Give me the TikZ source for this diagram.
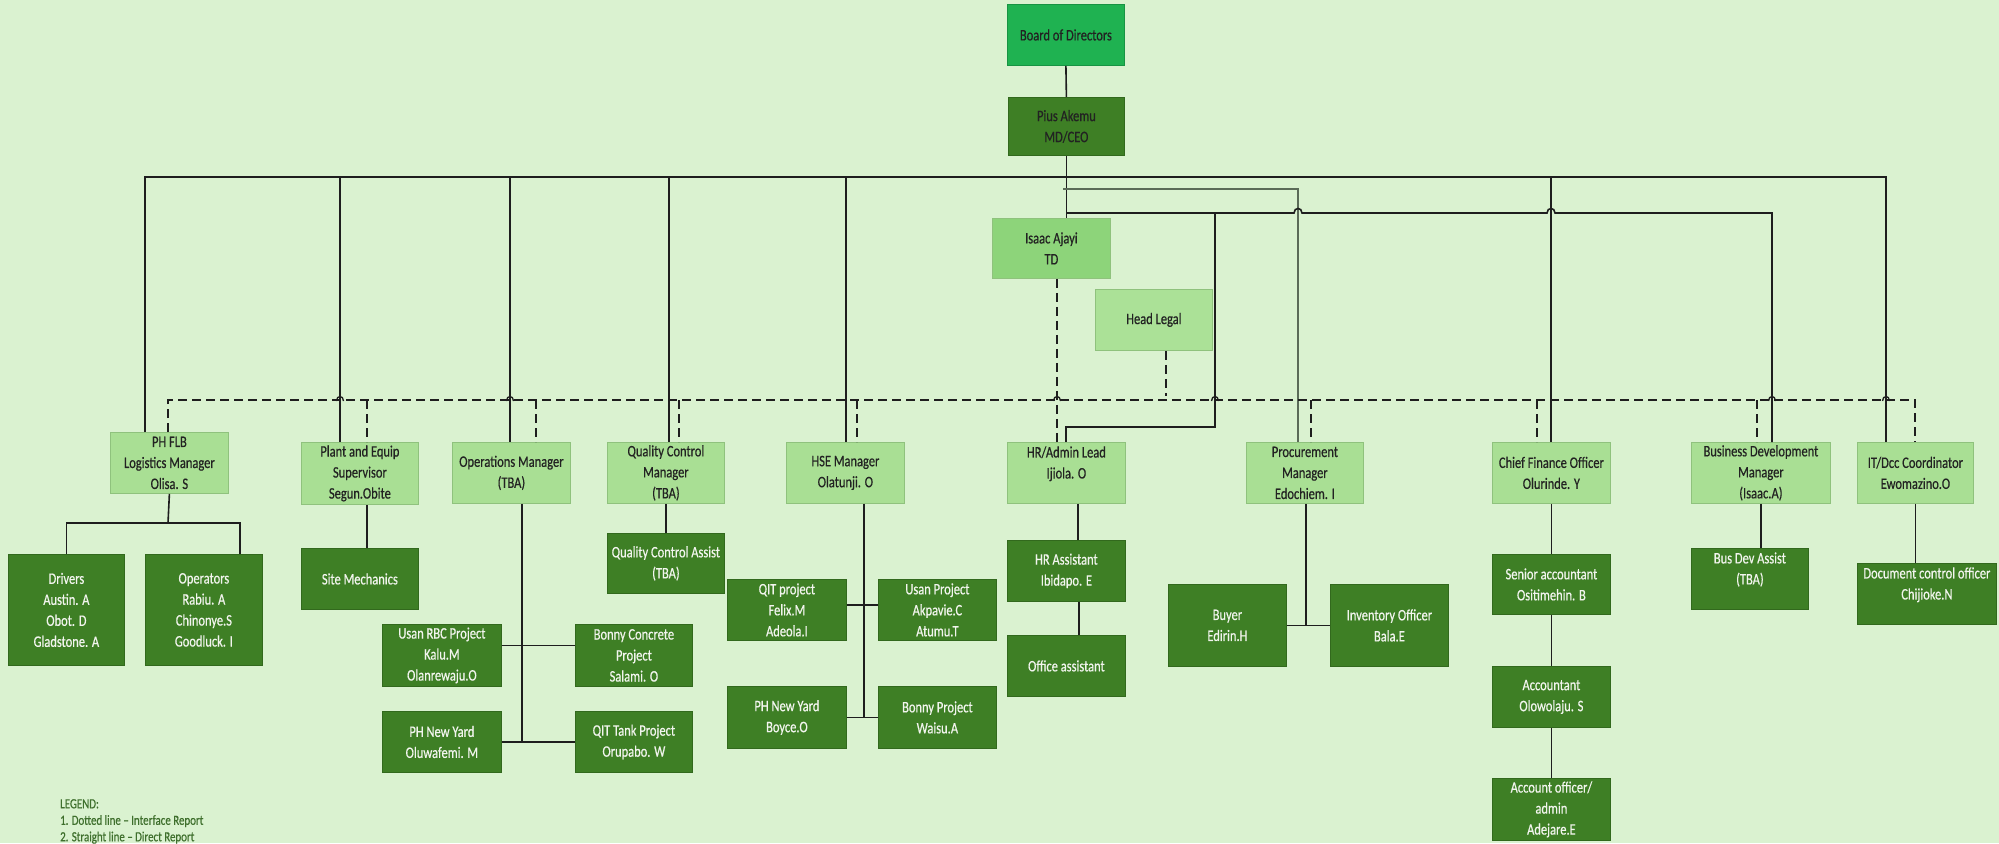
\documentclass[tikz,border=0pt]{standalone}
\usepackage{fontspec}
\setmainfont{Carlito}[FakeStretch=0.78,FakeBold=0.5]
\definecolor{bg}{HTML}{DAF2D0}
\definecolor{lgreen}{HTML}{A9DF94}
\definecolor{lborder}{HTML}{8FC27D}
\definecolor{isaacg}{HTML}{8DD47A}
\definecolor{legalg}{HTML}{ABE197}
\definecolor{boardg}{HTML}{1FB251}
\definecolor{boardb}{HTML}{179443}
\definecolor{dgreen}{HTML}{3E7F25}
\definecolor{dborder}{HTML}{32691D}
\definecolor{linecol}{HTML}{1E1E1E}
\definecolor{grayline}{HTML}{5B6B58}
\definecolor{ltext}{HTML}{222222}
\definecolor{dtext}{HTML}{F2F5EE}
\definecolor{legtext}{HTML}{3E6F2C}
\begin{document}
\begin{tikzpicture}[x=1pt,y=-1pt,
  box/.style={rectangle, draw, line width=0.8pt, anchor=north west, inner sep=0pt,
    align=center, font=\fontsize{16}{21}\selectfont},
  lbox/.style={box, fill=lgreen, draw=lborder, text=ltext},
  dbox/.style={box, fill=dgreen, draw=dborder, text=dtext},
  conn/.style={line width=1.6pt, draw=linecol},
  gconn/.style={line width=1.6pt, draw=grayline},
  dconn/.style={line width=2pt, draw=linecol, dash pattern=on 9pt off 5pt},
  hop/.style={line width=1.3pt, draw=linecol},
  legendtext/.style={anchor=north west, inner sep=0pt, align=left, text=legtext,
    font=\fontsize{14}{16.5}\selectfont}]
\useasboundingbox (0,0) rectangle (1999,843);
\fill[bg] (0,0) rectangle (1999,843);

% ---------- top ----------
\node[box, fill=boardg, draw=boardb, text=ltext, minimum width=117pt, minimum height=61pt] (board) at (1007,4) {Board of Directors};
\node[box, fill=dgreen, draw=dborder, text=ltext, minimum width=116pt, minimum height=58pt] (pius) at (1008,97) {Pius Akemu\\MD/CEO};
\node[box, fill=isaacg, draw=lborder, text=ltext, minimum width=118pt, minimum height=60pt] (isaac) at (992,218) {Isaac Ajayi\\TD};
\node[box, fill=legalg, draw=lborder, text=ltext, minimum width=117pt, minimum height=61pt] (legal) at (1095,289) {Head Legal};

% ---------- managers ----------
\node[lbox, minimum width=118pt, minimum height=61pt] (pfl) at (110,432) {PH FLB\\Logistics Manager\\Olisa. S};
\node[lbox, minimum width=117pt, minimum height=62pt] (plant) at (301,442) {Plant and Equip\\Supervisor\\Segun.Obite};
\node[lbox, minimum width=118pt, minimum height=61pt] (ops) at (452,442) {Operations Manager\\(TBA)};
\node[lbox, minimum width=117pt, minimum height=61pt] (qc) at (607,442) {Quality Control\\Manager\\(TBA)};
\node[lbox, minimum width=118pt, minimum height=61pt] (hse) at (786,442) {HSE Manager\\Olatunji. O};
\node[lbox, minimum width=118pt, minimum height=61pt] (hr) at (1007,442) {HR/Admin Lead\\Ijiola. O\\~};
\node[lbox, minimum width=117pt, minimum height=61pt] (proc) at (1246,442) {Procurement\\Manager\\Edochiem. I};
\node[lbox, minimum width=118pt, minimum height=61pt] (cfo) at (1492,442) {Chief Finance Officer\\Olurinde. Y};
\node[lbox, minimum width=139pt, minimum height=61pt] (bdm) at (1691,442) {Business Development\\Manager\\(Isaac.A)};
\node[lbox, minimum width=116pt, minimum height=61pt] (it) at (1857,442) {IT/Dcc Coordinator\\Ewomazino.O};

% ---------- staff ----------
\node[dbox, minimum width=116pt, minimum height=111pt] (drivers) at (8,554) {Drivers\\Austin. A\\Obot. D\\Gladstone. A};
\node[dbox, minimum width=117pt, minimum height=111pt] (operators) at (145,554) {Operators\\Rabiu. A\\Chinonye.S\\Goodluck. I};
\node[dbox, minimum width=117pt, minimum height=61pt] (site) at (301,548) {Site Mechanics};
\node[dbox, minimum width=117pt, minimum height=60pt] (qca) at (607,533) {Quality Control Assist\\(TBA)};
\node[dbox, minimum width=119pt, minimum height=62pt] (usanrbc) at (382,624) {Usan RBC Project\\Kalu.M\\Olanrewaju.O};
\node[dbox, minimum width=117pt, minimum height=62pt] (bonnyc) at (575,624) {Bonny Concrete\\Project\\Salami. O};
\node[dbox, minimum width=119pt, minimum height=61pt] (phnya) at (382,711) {PH New Yard\\Oluwafemi. M};
\node[dbox, minimum width=117pt, minimum height=61pt] (qittank) at (575,711) {QIT Tank Project\\Orupabo. W};
\node[dbox, minimum width=119pt, minimum height=61pt] (qitp) at (727,579) {QIT project\\Felix.M\\Adeola.I};
\node[dbox, minimum width=118pt, minimum height=61pt] (usanp) at (878,579) {Usan Project\\Akpavie.C\\Atumu.T};
\node[dbox, minimum width=119pt, minimum height=62pt] (phnyb) at (727,686) {PH New Yard\\Boyce.O};
\node[dbox, minimum width=118pt, minimum height=62pt] (bonnyp) at (878,686) {Bonny Project\\Waisu.A};
\node[dbox, minimum width=118pt, minimum height=61pt] (hra) at (1007,540) {HR Assistant\\Ibidapo. E};
\node[dbox, minimum width=118pt, minimum height=61pt] (office) at (1007,635) {Office assistant};
\node[dbox, minimum width=118pt, minimum height=82pt] (buyer) at (1168,584) {Buyer\\Edirin.H};
\node[dbox, minimum width=118pt, minimum height=82pt] (inv) at (1330,584) {Inventory Officer\\Bala.E};
\node[dbox, minimum width=118pt, minimum height=60pt] (senior) at (1492,554) {Senior accountant\\Ositimehin. B};
\node[dbox, minimum width=118pt, minimum height=61pt] (acct) at (1492,666) {Accountant\\Olowolaju. S};
\node[dbox, minimum width=118pt, minimum height=62pt] (acctoff) at (1492,778) {Account officer/\\admin\\Adejare.E};
\node[dbox, minimum width=117pt, minimum height=61pt] (bda) at (1691,548) {Bus Dev Assist\\(TBA)\\~};
\node[dbox, minimum width=139pt, minimum height=61pt] (doc) at (1857,563) {Document control officer\\Chijioke.N\\~};

% ---------- legend ----------
\node[legendtext] (legend) at (60,799) {LEGEND:\\1. Dotted line – Interface Report\\2. Straight line – Direct Report};

% ---------- direct report lines ----------
\draw[conn] (board.south) -- (pius.north);
\draw[conn] (pius.south) -- (pius.south |- isaac.north);
\coordinate (tl) at (145,177);
\coordinate (tr) at (1886,177);
\draw[conn] (tl |- pfl.north) -- (tl) -- (tr) -- (tr |- it.north);
\foreach \x/\n in {340/plant,510/ops,669/qc,846/hse,1551/cfo}
  \draw[conn] (\x,177) -- (\x,0 |- \n.north);
\coordinate (g1) at (1063,189);
\coordinate (g2) at (1298,189);
\draw[gconn] (g1) -- (g2) -- (g2 |- proc.north);
\coordinate (b1) at (1066,213);
\coordinate (b2) at (1772,213);
\draw[conn] (b1) -- (1294,213) .. controls (1294,207) and (1302,207) .. (1302,213)
  -- (1547,213) .. controls (1547,207) and (1555,207) .. (1555,213)
  -- (b2) -- (b2 |- bdm.north);
\coordinate (h1) at (1215,213);
\coordinate (h2) at (1215,427);
\draw[conn] (h1) -- (h2) -- (1066,427) -- (1066,0 |- hr.north);

% ---------- interface (dashed) lines ----------
\coordinate (dl) at (168,400);
\coordinate (dr) at (1915,400);
\draw[dconn] (dl |- pfl.north) -- (dl) -- (dr) -- (dr |- it.north);
\foreach \x/\n in {367/plant,536/ops,679/qc,857/hse,1311/proc,1537/cfo,1757/bdm}
  \draw[dconn] (\x,400) -- (\x,0 |- \n.north);
\draw[dconn] (1057,0 |- isaac.south) -- (1057,0 |- hr.north);
\draw[dconn, line width=1.3pt] (1166,0 |- legal.south) -- (1166,396);
\foreach \x in {340,510,1057,1215,1772,1886}
  \draw[hop] ({\x-3.5},401) .. controls ({\x-3.5},395) and ({\x+3.5},395) .. ({\x+3.5},401);

% ---------- lower lines ----------
\coordinate (pj) at (168,523);
\draw[conn] (pfl.south) -- (pj);
\draw[conn] (drivers.north) |- (pj) -| (240,0 |- operators.north);
\draw[conn] (367,0 |- plant.south) -- (367,0 |- site.north);
\draw[conn] (qc.south) -- (qc.south |- qca.north);
\draw[conn] (522,0 |- ops.south) -- (522,741);
\draw[conn] ([yshift=10pt]usanrbc.east) -- ([yshift=10pt]bonnyc.west);
\draw[conn] (phnya.east) -- (qittank.west);
\draw[conn] (864,0 |- hse.south) -- (864,717);
\draw[conn] ([yshift=5pt]qitp.east) -- ([yshift=5pt]usanp.west);
\draw[conn] (phnyb.east) -- (bonnyp.west);
\draw[conn] (1078,0 |- hr.south) -- (1078,0 |- hra.north);
\draw[conn, line width=1.1pt] (1079,0 |- hra.south) -- (1079,0 |- office.north);
\draw[conn] (1306,0 |- proc.south) -- (1306,0 |- buyer.east);
\draw[conn] (buyer.east) -- (inv.west);
\draw[conn] (cfo.south) -- (senior.north);
\draw[conn] (senior.south) -- (acct.north);
\draw[conn] (acct.south) -- (acctoff.north);
\draw[conn] (bdm.south) -- (bdm.south |- bda.north);
\draw[conn] (it.south) -- (it.south |- doc.north);
\end{tikzpicture}
\end{document}
